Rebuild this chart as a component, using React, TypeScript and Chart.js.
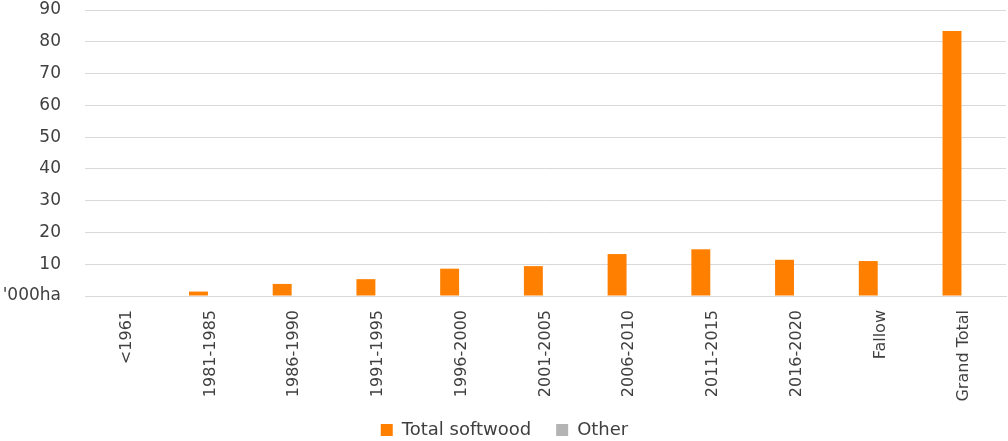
import React, { useEffect, useRef } from "react";
import { Chart, registerables } from "chart.js";

Chart.register(...registerables);

// Planting period categories
const categories = [
  "<1961",
  "1981-1985",
  "1986-1990",
  "1991-1995",
  "1996-2000",
  "2001-2005",
  "2006-2010",
  "2011-2015",
  "2016-2020",
  "Fallow",
  "Grand Total",
];

// Area in thousand hectares
const totalSoftwood = [0, 1.4, 3.8, 5.3, 8.6, 9.4, 13.2, 14.7, 11.4, 11.0, 83.4];
const other = [0, 0, 0, 0, 0, 0, 0, 0, 0, 0, 0];

const seriesNames = ["Total softwood", "Other"];
const zeroTickLabel = "'000ha";

const FONT = '"DejaVu Sans"';
const TEXT = "#404040";
const GRID = "#d9d9d9";

export default function App() {
  const canvasRef = useRef<HTMLCanvasElement | null>(null);

  useEffect(() => {
    if (!canvasRef.current) return;
    const chart = new Chart(canvasRef.current, {
      type: "bar",
      data: {
        labels: categories,
        datasets: [
          {
            label: seriesNames[0],
            data: totalSoftwood,
            backgroundColor: "#ff7f00",
            categoryPercentage: 0.58,
            barPercentage: 0.78,
          },
          {
            label: seriesNames[1],
            data: other,
            backgroundColor: "#b4b4b4",
            categoryPercentage: 0.58,
            barPercentage: 0.78,
          },
        ],
      },
      options: {
        animation: false,
        responsive: false,
        layout: { padding: { top: 10, left: 3, right: 2, bottom: 0 } },
        plugins: {
          legend: {
            position: "bottom",
            maxHeight: 45,
            labels: {
              boxWidth: 12,
              boxHeight: 12,
              padding: 25,
              color: TEXT,
              font: { family: FONT, size: 18 },
            },
          },
          tooltip: { enabled: false },
        },
        scales: {
          x: {
            grid: { display: false, drawTicks: false },
            border: { display: true, color: GRID, width: 1 },
            afterFit: (scale: any) => {
              scale.height = 100;
              scale.paddingLeft = 0;
              scale.paddingRight = 0;
              // let long rotated labels run below the axis box
              scale._computeLabelArea = () => undefined;
            },
            ticks: {
              autoSkip: false,
              maxRotation: 90,
              minRotation: 90,
              padding: 14,
              color: TEXT,
              font: { family: FONT, size: 16 },
            },
          },
          y: {
            min: 0,
            max: 90,
            grid: { color: GRID, lineWidth: 1, drawTicks: false },
            border: { display: false },
            afterFit: (scale: any) => {
              scale.width = 82;
              scale.paddingTop = 0;
              scale.paddingBottom = 0;
            },
            ticks: {
              stepSize: 10,
              padding: 24,
              color: TEXT,
              font: { family: FONT, size: 17 },
              callback: (v: any) => (Number(v) === 0 ? zeroTickLabel : String(v)),
            },
          },
        },
      },
    });
    return () => chart.destroy();
  }, []);

  return (
    <div style={{ position: "fixed", left: 0, top: 0, width: 1008, height: 441, background: "#fff" }}>
      <canvas ref={canvasRef} width={1008} height={441} style={{ display: "block" }} />
    </div>
  );
}
